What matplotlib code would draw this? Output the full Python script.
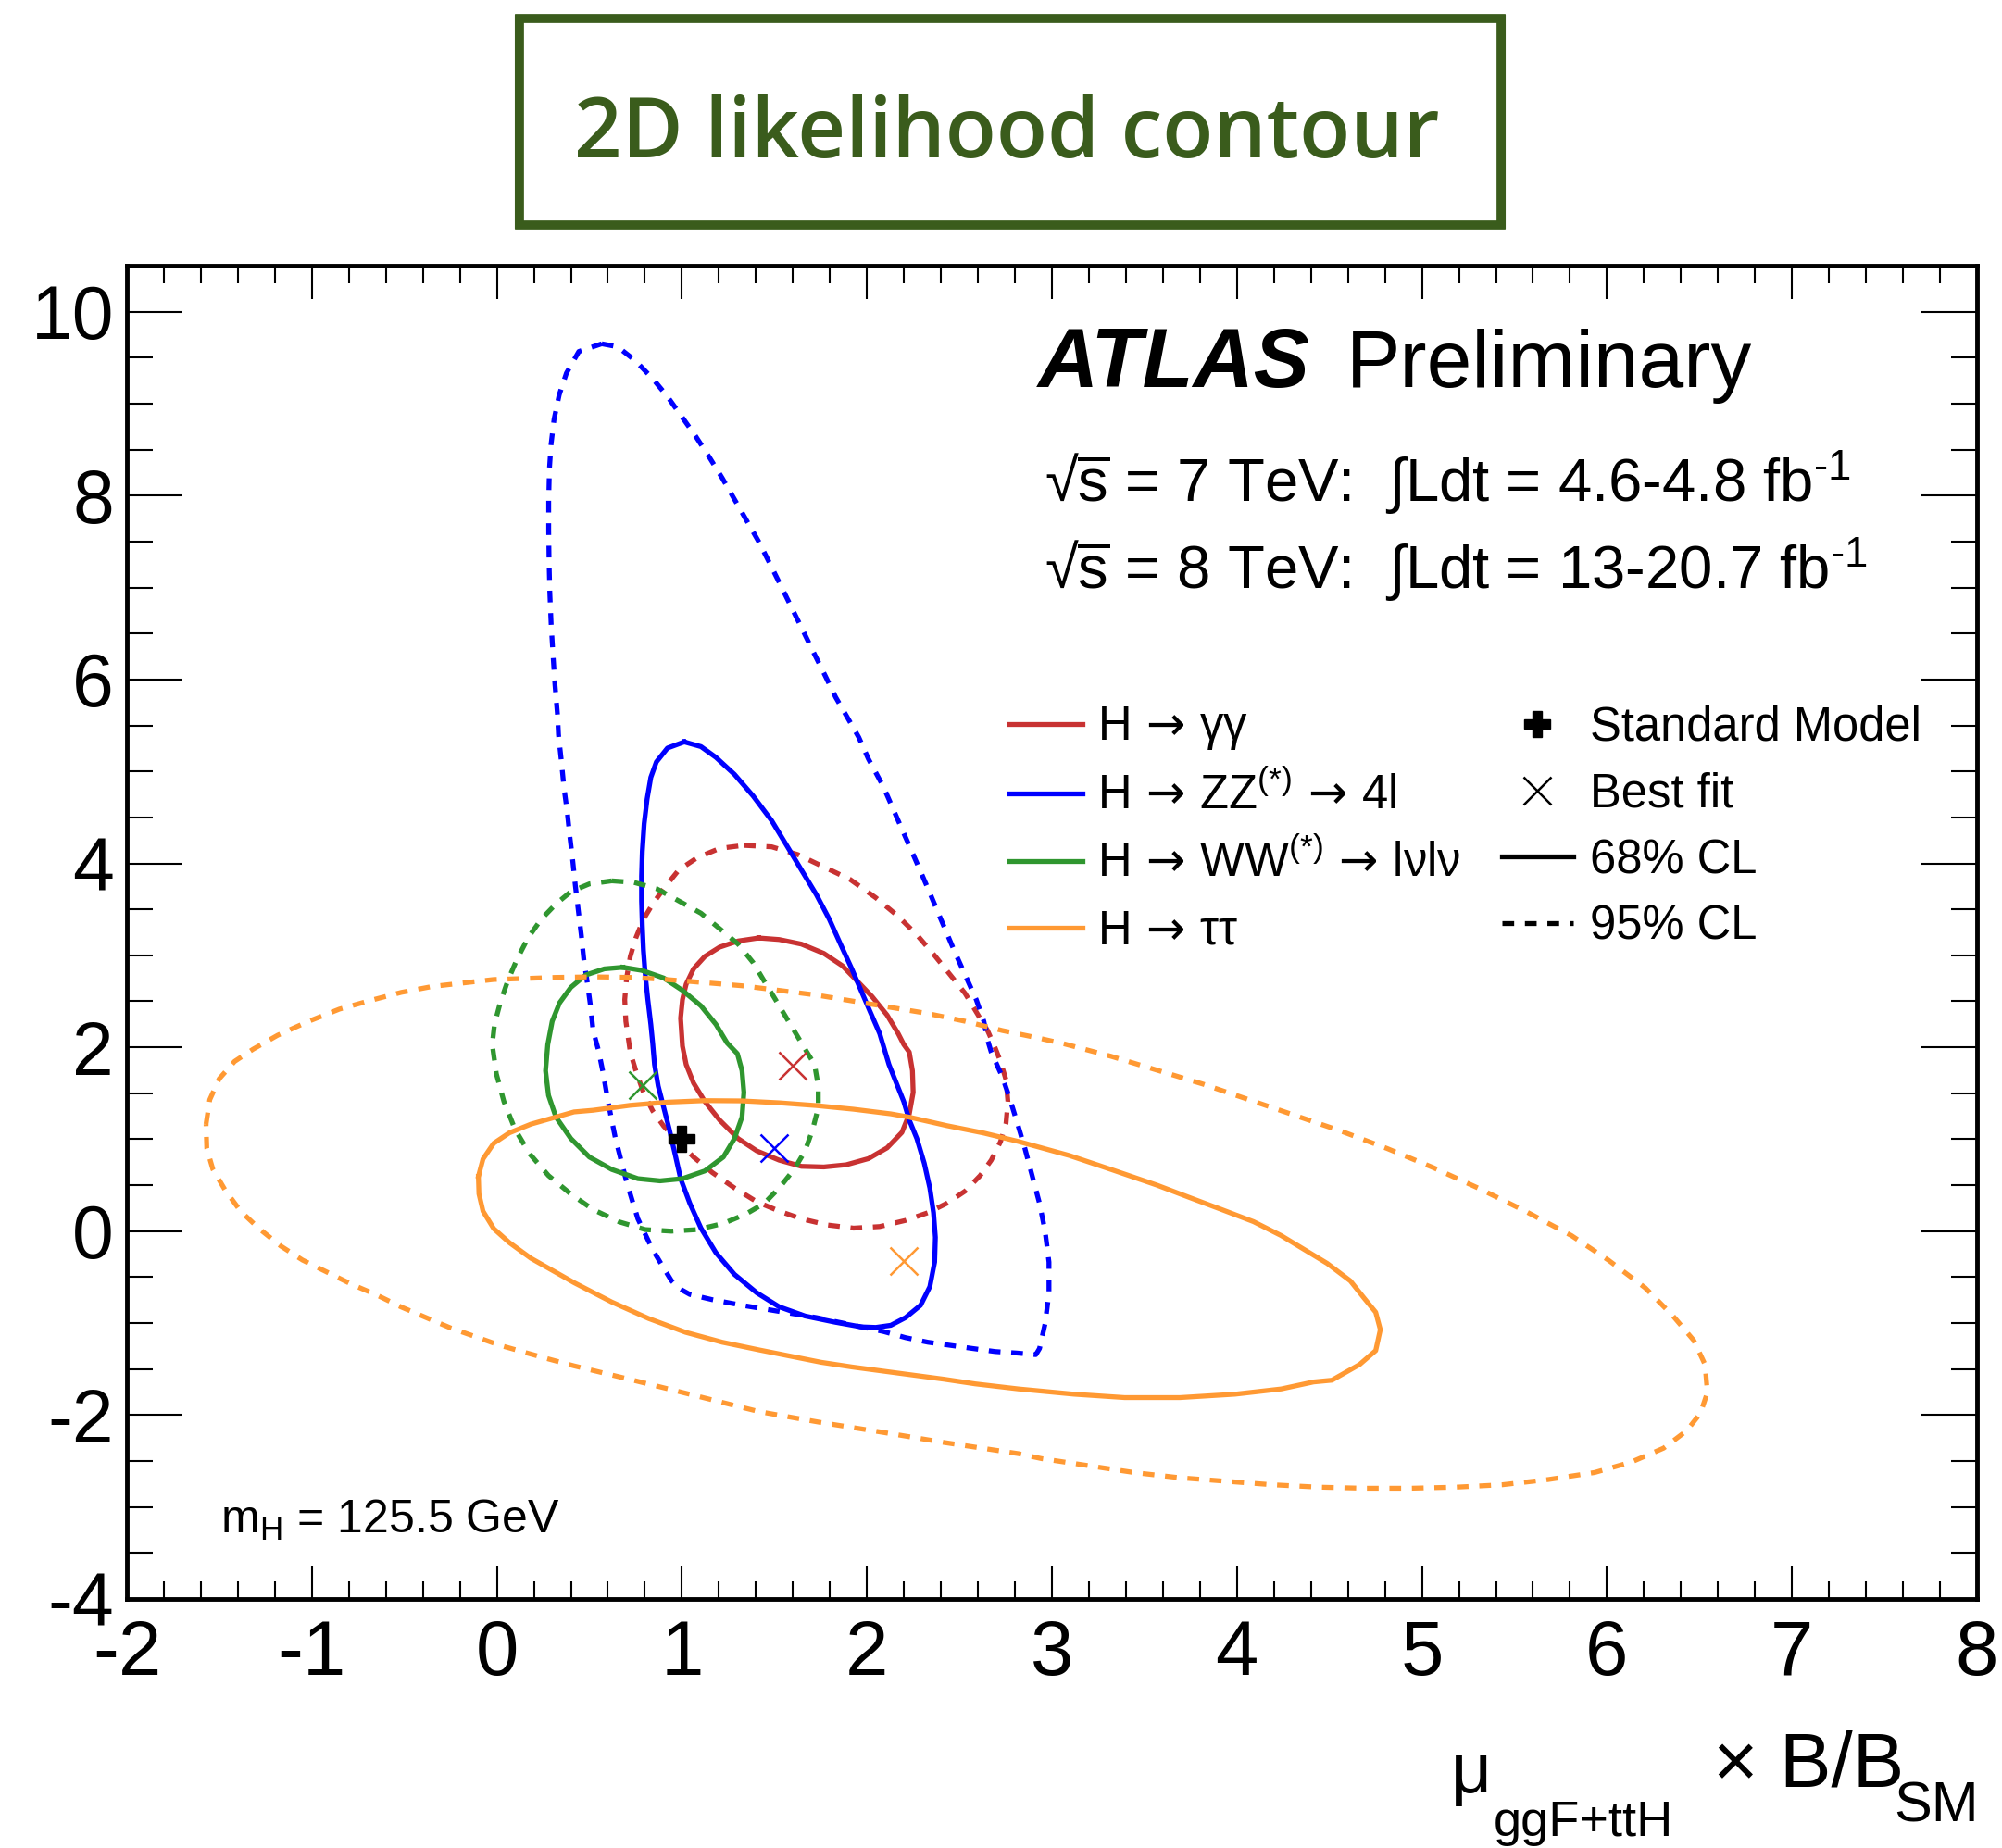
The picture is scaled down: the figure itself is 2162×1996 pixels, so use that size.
import numpy as np
import matplotlib
matplotlib.use('Agg')
import matplotlib.pyplot as plt
from matplotlib.lines import Line2D
from matplotlib.patches import Rectangle
from matplotlib.ticker import MultipleLocator, AutoMinorLocator

plt.rcParams['font.family'] = ['Liberation Sans', 'DejaVu Sans']
plt.rcParams['mathtext.fontset'] = 'custom'
plt.rcParams['mathtext.rm'] = 'Liberation Sans'
plt.rcParams['mathtext.it'] = 'Liberation Sans:italic'
plt.rcParams['mathtext.bf'] = 'Liberation Sans:bold'
plt.rcParams['mathtext.sf'] = 'DejaVu Sans'
plt.rcParams['axes.unicode_minus'] = False

# Contour points (mu_ggF+ttH x B/B_SM , mu_VBF+VH x B/B_SM)
yy68 = [(1.415, 3.189), (1.526, 3.172), (1.646, 3.122), (1.767, 3.021), (1.867, 2.887), (1.948, 2.719),
        (2.028, 2.551), (2.109, 2.350), (2.169, 2.149), (2.199, 2.031), (2.229, 1.947), (2.246, 1.745),
        (2.250, 1.510), (2.229, 1.275), (2.189, 1.074), (2.109, 0.906), (2.008, 0.789), (1.888, 0.722),
        (1.767, 0.698), (1.646, 0.705), (1.526, 0.772), (1.405, 0.873), (1.304, 1.007), (1.204, 1.208),
        (1.124, 1.410), (1.063, 1.611), (1.023, 1.813), (1.003, 2.014), (0.993, 2.316), (1.003, 2.518),
        (1.023, 2.686), (1.063, 2.853), (1.124, 2.988), (1.204, 3.089), (1.304, 3.156)]
yy95 = [(1.335, 4.196), (1.485, 4.180), (1.626, 4.096), (1.767, 3.961), (1.908, 3.827), (2.048, 3.626),
        (2.169, 3.424), (2.270, 3.223), (2.370, 2.988), (2.451, 2.786), (2.531, 2.585), (2.591, 2.384),
        (2.652, 2.182), (2.690, 2.010), (2.722, 1.846), (2.752, 1.645), (2.762, 1.410), (2.752, 1.175),
        (2.722, 0.973), (2.672, 0.772), (2.612, 0.604), (2.531, 0.436), (2.431, 0.302), (2.330, 0.201),
        (2.209, 0.117), (2.069, 0.050), (1.928, 0.033), (1.787, 0.067), (1.646, 0.134), (1.526, 0.218),
        (1.405, 0.319), (1.284, 0.470), (1.164, 0.638), (1.063, 0.806), (0.983, 0.973), (0.902, 1.141),
        (0.842, 1.309), (0.792, 1.510), (0.751, 1.745), (0.721, 1.947), (0.697, 2.283), (0.691, 2.518),
        (0.701, 2.753), (0.721, 2.988), (0.751, 3.189), (0.792, 3.391), (0.842, 3.558), (0.902, 3.726),
        (0.983, 3.928), (1.083, 4.062), (1.204, 4.163)]
zz68 = [(1.013, 5.321), (1.103, 5.270), (1.184, 5.153), (1.284, 4.968), (1.385, 4.733), (1.485, 4.465),
        (1.566, 4.196), (1.646, 3.928), (1.727, 3.659), (1.797, 3.391), (1.857, 3.122), (1.918, 2.854),
        (1.968, 2.619), (2.018, 2.384), (2.069, 2.149), (2.119, 1.813), (2.159, 1.611), (2.199, 1.410),
        (2.229, 1.208), (2.270, 1.007), (2.310, 0.738), (2.340, 0.470), (2.360, 0.201), (2.370, -0.067),
        (2.366, -0.336), (2.340, -0.604), (2.290, -0.806), (2.209, -0.940), (2.129, -1.024), (2.048, -1.047),
        (1.968, -1.041), (1.827, -0.990), (1.666, -0.923), (1.526, -0.823), (1.405, -0.671), (1.284, -0.470),
        (1.184, -0.235), (1.103, 0.033), (1.043, 0.302), (0.993, 0.571), (0.963, 0.839), (0.932, 1.108),
        (0.902, 1.343), (0.872, 1.578), (0.852, 1.813), (0.842, 2.048), (0.832, 2.249), (0.816, 2.518),
        (0.802, 2.786), (0.792, 3.055), (0.786, 3.324), (0.782, 3.592), (0.782, 3.861), (0.786, 4.129),
        (0.796, 4.431), (0.812, 4.700), (0.832, 4.935), (0.862, 5.103), (0.922, 5.254)]
zz95 = [(0.567, 9.651), (0.653, 9.618), (0.749, 9.466), (0.845, 9.265), (0.921, 9.080), (0.998, 8.862),
        (1.075, 8.644), (1.151, 8.409), (1.218, 8.191), (1.285, 7.956), (1.352, 7.721), (1.419, 7.486),
        (1.486, 7.217), (1.544, 6.982), (1.601, 6.748), (1.659, 6.512), (1.716, 6.277), (1.774, 6.043),
        (1.831, 5.807), (1.889, 5.606), (1.956, 5.371), (2.008, 5.136), (2.089, 4.834), (2.169, 4.465),
        (2.250, 4.096), (2.330, 3.726), (2.400, 3.391), (2.471, 3.055), (2.531, 2.786), (2.591, 2.518),
        (2.632, 2.283), (2.652, 2.081), (2.672, 1.947), (2.732, 1.678), (2.772, 1.443), (2.813, 1.175),
        (2.853, 0.906), (2.893, 0.604), (2.933, 0.302), (2.963, 0.000), (2.984, -0.336), (2.984, -0.671),
        (2.963, -1.007), (2.933, -1.276), (2.913, -1.343), (2.813, -1.326), (2.692, -1.309), (2.571, -1.276),
        (2.451, -1.242), (2.330, -1.208), (2.209, -1.158), (2.089, -1.091), (1.928, -1.024), (1.727, -0.940),
        (1.526, -0.873), (1.325, -0.806), (1.164, -0.745), (1.043, -0.688), (0.983, -0.621), (0.943, -0.537),
        (0.892, -0.369), (0.842, -0.202), (0.802, -0.034), (0.762, 0.134), (0.731, 0.336), (0.701, 0.537),
        (0.671, 0.772), (0.641, 1.007), (0.617, 1.242), (0.595, 1.477), (0.575, 1.712), (0.550, 1.960),
        (0.520, 2.182), (0.506, 2.451), (0.490, 2.686), (0.470, 2.954), (0.456, 3.223), (0.440, 3.491),
        (0.424, 3.760), (0.410, 4.028), (0.394, 4.297), (0.380, 4.566), (0.363, 4.817), (0.349, 5.103),
        (0.333, 5.400), (0.328, 5.606), (0.314, 5.942), (0.303, 6.278), (0.293, 6.613), (0.286, 6.949),
        (0.282, 7.285), (0.280, 7.620), (0.280, 7.956), (0.284, 8.292), (0.293, 8.560), (0.309, 8.829),
        (0.337, 9.097), (0.376, 9.332), (0.443, 9.567)]
ww68 = [(0.681, 2.870), (0.782, 2.837), (0.902, 2.753), (1.003, 2.619), (1.103, 2.451), (1.184, 2.249),
        (1.244, 2.048), (1.300, 1.930), (1.325, 1.745), (1.335, 1.510), (1.325, 1.242), (1.284, 1.007),
        (1.224, 0.806), (1.124, 0.655), (1.003, 0.571), (0.882, 0.547), (0.762, 0.571), (0.621, 0.671),
        (0.500, 0.806), (0.400, 1.007), (0.319, 1.242), (0.279, 1.477), (0.263, 1.745), (0.275, 2.030),
        (0.299, 2.283), (0.339, 2.484), (0.400, 2.652), (0.480, 2.786), (0.581, 2.853)]
ww95 = [(0.621, 3.810), (0.741, 3.793), (0.862, 3.726), (0.983, 3.592), (1.103, 3.458), (1.204, 3.290),
        (1.304, 3.122), (1.385, 2.921), (1.445, 2.719), (1.506, 2.518), (1.566, 2.316), (1.626, 2.115),
        (1.672, 1.960), (1.717, 1.813), (1.737, 1.578), (1.737, 1.343), (1.707, 1.108), (1.666, 0.873),
        (1.606, 0.671), (1.526, 0.470), (1.445, 0.302), (1.345, 0.185), (1.224, 0.084), (1.083, 0.017),
        (0.943, 0.000), (0.802, 0.017), (0.661, 0.101), (0.520, 0.235), (0.400, 0.403), (0.279, 0.604),
        (0.178, 0.839), (0.098, 1.108), (0.038, 1.410), (-0.003, 1.712), (-0.025, 2.030), (-0.013, 2.249),
        (0.018, 2.484), (0.058, 2.719), (0.108, 2.954), (0.168, 3.189), (0.239, 3.391), (0.319, 3.558),
        (0.400, 3.693), (0.500, 3.777)]
tt68 = [(-0.100, 0.596), (-0.075, 0.785), (-0.017, 0.956), (0.067, 1.069), (0.184, 1.164), (0.317, 1.240),
        (0.417, 1.297), (0.520, 1.315), (0.721, 1.369), (0.922, 1.403), (1.124, 1.420), (1.325, 1.417),
        (1.526, 1.396), (1.727, 1.366), (1.928, 1.326), (2.129, 1.276), (2.229, 1.240), (2.431, 1.148),
        (2.632, 1.067), (2.820, 0.975), (3.094, 0.823), (3.318, 0.672), (3.567, 0.501), (3.741, 0.368),
        (3.916, 0.236), (4.090, 0.103), (4.239, -0.048), (4.364, -0.200), (4.488, -0.351), (4.613, -0.541),
        (4.688, -0.730), (4.750, -0.882), (4.775, -1.071), (4.750, -1.299), (4.663, -1.450), (4.513, -1.621),
        (4.414, -1.640), (4.239, -1.716), (3.990, -1.773), (3.692, -1.810), (3.393, -1.810), (3.119, -1.773),
        (2.820, -1.716), (2.586, -1.661), (2.419, -1.611), (2.169, -1.544), (1.919, -1.477), (1.752, -1.426),
        (1.585, -1.359), (1.418, -1.292), (1.218, -1.208), (1.020, -1.100), (0.820, -0.950), (0.620, -0.770),
        (0.417, -0.560), (0.317, -0.446), (0.184, -0.295), (0.067, -0.124), (-0.017, 0.027), (-0.075, 0.217),
        (-0.097, 0.406)]
tt95 = [(-1.572, 1.164), (-1.552, 1.430), (-1.501, 1.657), (-1.418, 1.846), (-1.318, 1.979), (-1.185, 2.131),
        (-1.018, 2.282), (-0.851, 2.415), (-0.684, 2.509), (-0.517, 2.597), (-0.350, 2.661), (-0.184, 2.699),
        (-0.017, 2.737), (0.150, 2.748), (0.319, 2.760), (0.520, 2.766), (0.721, 2.760), (0.922, 2.736),
        (1.124, 2.703), (1.325, 2.669), (1.526, 2.619), (1.727, 2.568), (1.928, 2.501), (2.129, 2.434),
        (2.330, 2.367), (2.531, 2.283), (2.732, 2.182), (2.933, 2.098), (3.069, 2.036), (3.318, 1.903),
        (3.567, 1.752), (3.816, 1.600), (4.065, 1.430), (4.314, 1.259), (4.563, 1.088), (4.812, 0.899),
        (5.061, 0.691), (5.310, 0.463), (5.559, 0.217), (5.808, -0.048), (6.007, -0.314), (6.207, -0.617),
        (6.356, -0.920), (6.468, -1.185), (6.530, -1.450), (6.543, -1.754), (6.505, -1.981), (6.431, -2.170),
        (6.306, -2.360), (6.132, -2.511), (5.933, -2.625), (5.684, -2.701), (5.435, -2.758), (5.186, -2.784),
        (4.937, -2.796), (4.688, -2.796), (4.439, -2.784), (4.190, -2.758), (3.941, -2.720), (3.692, -2.682),
        (3.443, -2.625), (3.194, -2.549), (2.945, -2.474), (2.820, -2.420), (2.420, -2.299), (2.086, -2.188),
        (1.752, -2.081), (1.418, -1.963), (1.085, -1.795), (0.751, -1.628), (0.417, -1.465), (0.284, -1.393),
        (0.150, -1.318), (0.017, -1.242), (-0.117, -1.147), (-0.250, -1.053), (-0.384, -0.939), (-0.517, -0.825),
        (-0.651, -0.693), (-0.784, -0.579), (-0.918, -0.446), (-1.051, -0.314), (-1.168, -0.162), (-1.285, 0.027),
        (-1.385, 0.217), (-1.468, 0.444), (-1.535, 0.672), (-1.568, 0.899)]

# best fit points and SM expectation
channels = ['yy', 'zz', 'ww', 'tt']
best_x = [1.60, 1.50, 0.79, 2.20]
best_y = [1.80, 0.90, 1.59, -0.32]
sm_point = (1.0, 1.0)

colors = {'yy': '#c83232', 'zz': '#0000ff', 'ww': '#2f962f', 'tt': '#ff9933'}
ARROW = r'$\,\mathsf{\rightarrow}\,$'
labels1 = ['H' + ARROW + r'$\mathrm{\gamma\gamma}$',
           'H' + ARROW + r'ZZ$^{\mathrm{(*)}}$' + ARROW + '4l',
           'H' + ARROW + r'WW$^{\mathrm{(*)}}$' + ARROW + 'lνlν',
           'H' + ARROW + 'ττ']
labels2 = ['Standard Model', 'Best fit', '68% CL', '95% CL']

LW = 3.8
DASH = (0, (2.4, 2.2))
title_green = '#3a5c1c'

fig = plt.figure(figsize=(21.62, 19.96), dpi=100)
ax = fig.add_axes([0.06337, 0.13477, 0.92414, 0.72144])

contours = [(yy95, 'yy', DASH), (yy68, 'yy', '-'),
            (zz95, 'zz', DASH), (zz68, 'zz', '-'),
            (ww95, 'ww', DASH), (ww68, 'ww', '-'),
            (tt95, 'tt', DASH), (tt68, 'tt', '-')]
for pts, ch, ls in contours:
    a = np.array(pts + pts[:1])
    ax.plot(a[:, 0], a[:, 1], color=colors[ch], lw=LW, ls=ls,
            solid_joinstyle='round', dash_capstyle='butt')

for ch, bx, by in zip(channels, best_x, best_y):
    ax.plot(bx, by, ls='none', marker='x', ms=21, mew=1.8, color=colors[ch])
ax.plot(sm_point[0], sm_point[1], ls='none', marker='P', ms=20, color='black')

ax.set_xlim(-2, 8)
ax.set_ylim(-4, 10.5)
ax.xaxis.set_major_locator(MultipleLocator(1))
ax.xaxis.set_minor_locator(AutoMinorLocator(5))
ax.yaxis.set_major_locator(MultipleLocator(2))
ax.yaxis.set_minor_locator(AutoMinorLocator(4))
ax.tick_params(axis='x', which='major', direction='in', top=True, length=26, width=1.5,
               labelsize=60, pad=15)
ax.tick_params(axis='x', which='minor', direction='in', top=True, length=14, width=1.5)
ax.tick_params(axis='y', which='major', direction='in', right=True, length=43, width=1.5,
               labelsize=58, pad=10)
ax.tick_params(axis='y', which='minor', direction='in', right=True, length=20, width=1.5)
for s in ax.spines.values():
    s.set_linewidth(3.5)

# legends
h1 = [Line2D([], [], color=colors[c], lw=LW) for c in channels]
fig.legend(h1, labels1, loc='upper left', bbox_to_anchor=(0.5042, 0.6185), frameon=False,
           fontsize=36.5, handlelength=1.56, handletextpad=0.32, labelspacing=0.45,
           borderpad=0, borderaxespad=0)
h2 = [Line2D([], [], ls='none', marker='P', ms=20, color='black'),
      Line2D([], [], ls='none', marker='x', ms=21, mew=1.8, color='black'),
      Line2D([], [], color='black', lw=LW),
      Line2D([], [], color='black', lw=LW, ls=DASH)]
fig.legend(h2, labels2, loc='upper left', bbox_to_anchor=(0.7502, 0.6185), frameon=False,
           fontsize=36.5, handlelength=1.52, handletextpad=0.36, labelspacing=0.45,
           borderpad=0, borderaxespad=0)

# labels inside the frame
fig.text(0.5185, 0.7906, 'ATLAS', fontsize=65, fontweight='bold', fontstyle='italic')
fig.text(0.6725, 0.7906, 'Preliminary', fontsize=63)
fig.text(0.5217, 0.7280, r'√$\overline{\mathrm{s}}$ = 7 TeV:  $\int$Ldt = 4.6-4.8 fb$^{\mathrm{‐1}}$', fontsize=47)
fig.text(0.5217, 0.6809, r'√$\overline{\mathrm{s}}$ = 8 TeV:  $\int$Ldt = 13-20.7 fb$^{\mathrm{‐1}}$', fontsize=47)
fig.text(0.110, 0.1703, r'm$_{\mathrm{H}}$ = 125.5 GeV', fontsize=36)

# x axis title, ROOT style
fig.text(0.7248, 0.0301, 'μ', fontsize=55)
fig.text(0.7461, 0.0065, 'ggF+ttH', fontsize=39)
fig.text(0.8557, 0.0331, '× B/B', fontsize=60)
fig.text(0.9884, 0.0145, 'SM', fontsize=44, ha='right')

# title box
fig.add_artist(Rectangle((0.2595, 0.8783), 0.4903, 0.1117, transform=fig.transFigure,
                         fill=False, lw=7, ec=title_green))
fig.add_artist(Rectangle((0.2575, 0.8768), 0.4943, 0.1147, transform=fig.transFigure,
                         fill=False, lw=1.5, ec=title_green))
fig.text(0.503, 0.9148, '2D likelihood contour', fontsize=65, family='Open Sans',
         fontweight='semibold', color=title_green, ha='center', va='baseline')

fig.savefig('out.png', dpi=100)
